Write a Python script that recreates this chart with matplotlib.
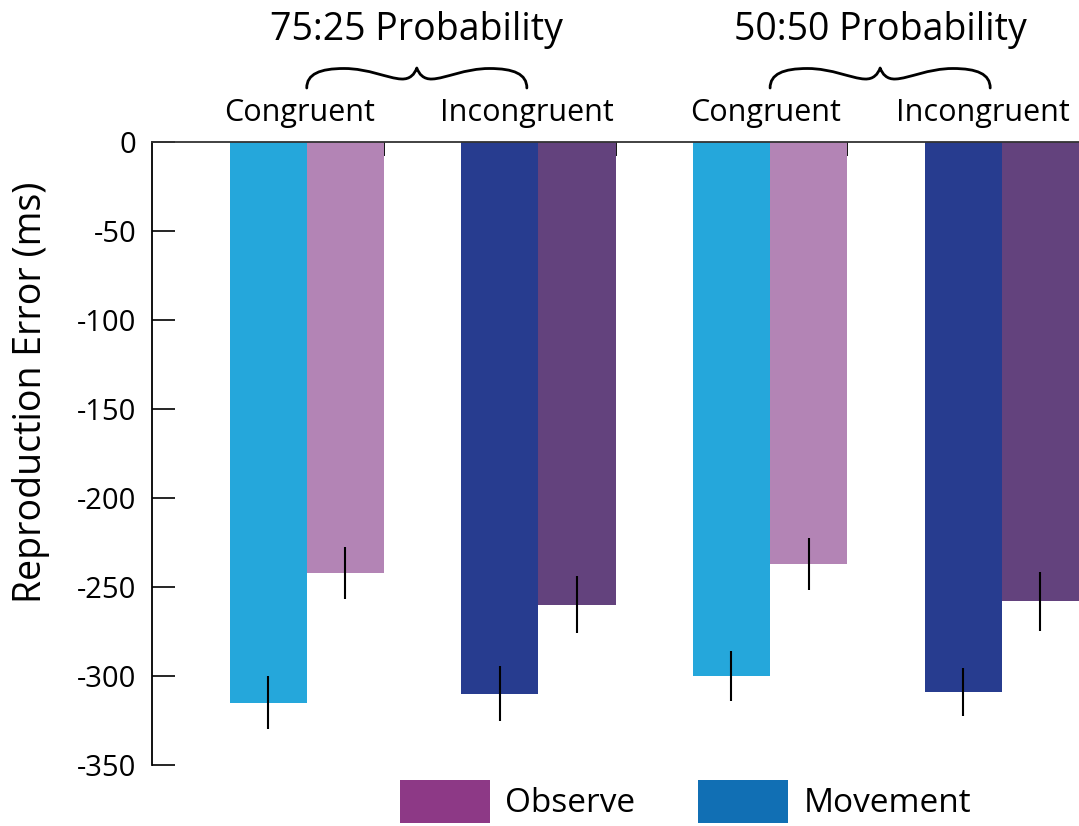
import matplotlib
matplotlib.use("Agg")
import matplotlib.pyplot as plt
from matplotlib.patches import Patch, PathPatch
from matplotlib.path import Path
from matplotlib.transforms import blended_transform_factory
import numpy as np

plt.rcParams['font.family'] = ['Open Sans', 'DejaVu Sans']
plt.rcParams['axes.unicode_minus'] = False

# Data
conditions = ['Congruent', 'Incongruent', 'Congruent', 'Incongruent']
probabilities = ['75:25 Probability', '50:50 Probability']
movement = [-315, -310, -300, -309]
movement_err = [15, 15.5, 14, 13.5]
observe = [-242, -260, -237, -258]
observe_err = [14.5, 16, 14.5, 16.5]
series_names = ['Observe', 'Movement']

movement_colors = ['#25A7DB', '#273C8F', '#25A7DB', '#273C8F']
observe_colors = ['#B384B5', '#63427D', '#B384B5', '#63427D']
legend_colors = ['#8D3986', '#116FB4']

W, H = 1079, 826
fig = plt.figure(figsize=(W / 100, H / 100), dpi=100)
ax = fig.add_axes([152 / W, 1 - 765 / H, 1 - 152 / W, (765 - 142) / H])

x = np.arange(len(conditions))
w = 1 / 3
ax.bar(x - w / 2, movement, width=w, color=movement_colors, zorder=2)
ax.bar(x + w / 2, observe, width=w, color=observe_colors, zorder=2)
ax.errorbar(x - w / 2, movement, yerr=movement_err, fmt='none', ecolor='black',
            elinewidth=1.5, capsize=0, zorder=3)
ax.errorbar(x + w / 2, observe, yerr=observe_err, fmt='none', ecolor='black',
            elinewidth=1.5, capsize=0, zorder=3)

# axes styling
ax.set_ylim(-350, 0)
ax.set_xlim(-0.668, 3.311)
ax.set_yticks(np.arange(-350, 1, 50))
ax.tick_params(axis='y', direction='in', length=16.5, width=1.2, pad=11,
               labelsize=21)
ax.xaxis.set_ticks_position('top')
ax.set_xticks(x + w)
ax.set_xticklabels([])
ax.tick_params(axis='x', direction='in', length=10, width=1.3)
ax.spines['right'].set_visible(False)
ax.spines['bottom'].set_visible(False)
ax.spines['left'].set_linewidth(1.3)
ax.spines['top'].set_linewidth(1.3)
ax.spines['top'].set_color('#333333')

fig.text(31 / W, 1 - 392 / H, 'Reproduction Error (ms)', rotation=90,
         ha='center', va='center', fontsize=27)

trans = blended_transform_factory(ax.transData, fig.transFigure)

# condition labels above each pair of bars
label_x = [-0.03, 0.95, 1.98, 2.92]
for lx, name in zip(label_x, conditions):
    ax.text(lx, 1 - 121 / H, name, transform=trans,
            ha='center', va='baseline', fontsize=22)


# curly brace over a pair of conditions
def brace(x0, x1):
    base = 88
    half = [(0, 0), (0.0, 14), (0.06, 19.5), (0.17, 19.5),
            (0.28, 19.5), (0.37, 9.5), (0.43, 9),
            (0.47, 8.5), (0.49, 14), (0.5, 20)]
    right = [(1 - u, v) for u, v in reversed(half[:-1])]
    pts = half + right
    verts = [(x0 + u * (x1 - x0), 1 - (base - v) / H) for u, v in pts]
    codes = [Path.MOVETO] + [Path.CURVE4] * (len(verts) - 1)
    ax.add_patch(PathPatch(Path(verts, codes), transform=trans, fill=False,
                           lw=2.0, color='black', clip_on=False,
                           capstyle='round', joinstyle='round'))


for g, title in zip([0, 2], probabilities):
    brace(g, g + 0.95)
    ax.text(g + 0.475, 1 - 40 / H, title, transform=trans, ha='center',
            va='baseline', fontsize=27)

handles = [Patch(facecolor=c) for c in legend_colors]
fig.legend(handles, series_names, loc='upper left',
           bbox_to_anchor=(400 / W, 1 - 780 / H), ncol=2, frameon=False,
           fontsize=24, handlelength=2.7, handleheight=1.6, handletextpad=0.45,
           columnspacing=1.9, borderpad=0, borderaxespad=0)

fig.savefig('out.png', dpi=100)
